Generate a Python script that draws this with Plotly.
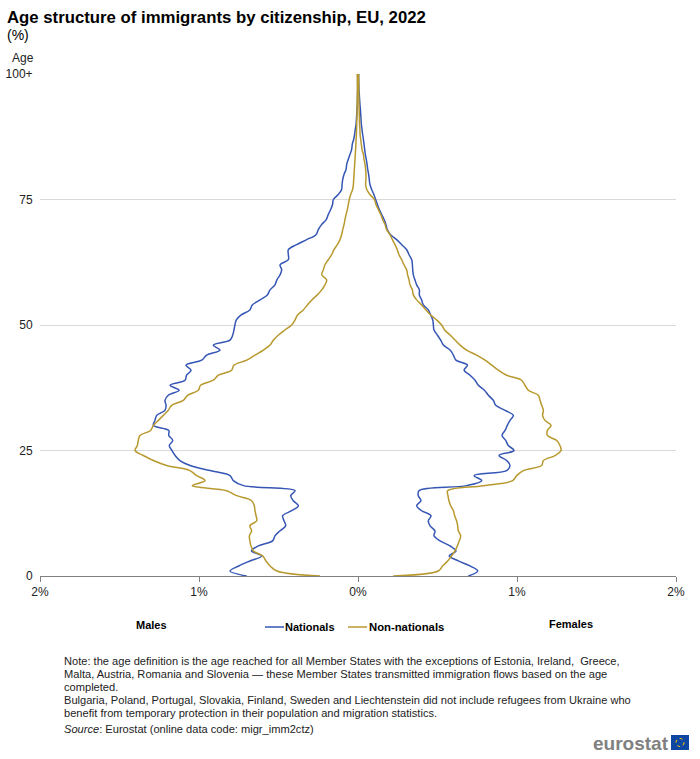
import plotly.graph_objects as go

ages = list(range(0, 101))

# share of immigrants per single year of age (%)
male_nationals = [
    0.70, 0.805, 0.75, 0.68, 0.605, 0.67, 0.627, 0.537, 0.522, 0.49,
    0.455, 0.465, 0.474, 0.417, 0.375, 0.407, 0.423, 0.396, 0.72, 0.784,
    0.805, 0.93, 1.056, 1.12, 1.15, 1.17, 1.187, 1.165, 1.19, 1.19,
    1.287, 1.277, 1.266, 1.214, 1.207, 1.214, 1.193, 1.125, 1.182, 1.088,
    1.078, 1.05, 1.082, 0.983, 0.952, 0.868, 0.91, 0.805, 0.788, 0.78,
    0.774, 0.765, 0.735, 0.68, 0.665, 0.616, 0.57, 0.553, 0.522, 0.51,
    0.49, 0.48, 0.49, 0.438, 0.438, 0.438, 0.386, 0.323, 0.264, 0.25,
    0.229, 0.20, 0.187, 0.172, 0.16, 0.155, 0.124, 0.103, 0.10, 0.096,
    0.088, 0.075, 0.071, 0.061, 0.05, 0.04, 0.036, 0.027, 0.021, 0.017,
    0.012, 0.01, 0.008, 0.006, 0.004, 0.003, 0.003, 0.002, 0.002, 0.002, 0.002,
]
male_non_nationals = [
    0.239, 0.51, 0.553, 0.579, 0.60, 0.658, 0.673, 0.68, 0.683, 0.669,
    0.68, 0.637, 0.641, 0.648, 0.652, 0.669, 0.763, 0.826, 1.042, 0.962,
    1.015, 1.057, 1.203, 1.287, 1.35, 1.402, 1.388, 1.382, 1.371, 1.304,
    1.287, 1.256, 1.224, 1.193, 1.172, 1.099, 1.071, 1.004, 0.99, 0.91,
    0.878, 0.795, 0.78, 0.70, 0.648, 0.595, 0.553, 0.532, 0.50, 0.46,
    0.417, 0.396, 0.38, 0.344, 0.318, 0.29, 0.256, 0.228, 0.208, 0.197,
    0.228, 0.218, 0.208, 0.187, 0.166, 0.151, 0.13, 0.113, 0.103, 0.096,
    0.088, 0.082, 0.075, 0.067, 0.061, 0.055, 0.046, 0.034, 0.029, 0.027,
    0.025, 0.023, 0.021, 0.019, 0.017, 0.015, 0.013, 0.012, 0.01, 0.009,
    0.008, 0.007, 0.006, 0.006, 0.005, 0.005, 0.004, 0.004, 0.004, 0.004, 0.005,
]
female_nationals = [
    0.694, 0.753, 0.704, 0.631, 0.574, 0.616, 0.579, 0.516, 0.478, 0.484,
    0.453, 0.442, 0.459, 0.40, 0.369, 0.396, 0.379, 0.384, 0.683, 0.778,
    0.73, 0.935, 0.956, 0.935, 0.887, 0.981, 0.945, 0.929, 0.906, 0.925,
    0.939, 0.956, 0.977, 0.925, 0.866, 0.851, 0.82, 0.795, 0.757, 0.736,
    0.704, 0.667, 0.688, 0.616, 0.60, 0.579, 0.537, 0.52, 0.499, 0.478,
    0.474, 0.47, 0.457, 0.442, 0.411, 0.40, 0.386, 0.386, 0.369, 0.358,
    0.348, 0.344, 0.342, 0.338, 0.321, 0.306, 0.275, 0.243, 0.205, 0.184,
    0.176, 0.164, 0.149, 0.134, 0.122, 0.111, 0.10, 0.086, 0.075, 0.071,
    0.067, 0.061, 0.057, 0.052, 0.046, 0.042, 0.038, 0.034, 0.029, 0.025,
    0.021, 0.019, 0.017, 0.015, 0.012, 0.01, 0.008, 0.006, 0.005, 0.004, 0.004,
]
female_non_nationals = [
    0.222, 0.505, 0.532, 0.564, 0.589, 0.61, 0.625, 0.637, 0.646, 0.631,
    0.627, 0.62, 0.608, 0.60, 0.583, 0.572, 0.566, 0.564, 0.788, 0.973,
    0.998, 1.04, 1.155, 1.166, 1.239, 1.277, 1.27, 1.25, 1.191, 1.191,
    1.214, 1.176, 1.161, 1.166, 1.155, 1.145, 1.134, 1.071, 1.05, 1.029,
    0.935, 0.883, 0.841, 0.799, 0.746, 0.683, 0.642, 0.61, 0.579, 0.545,
    0.526, 0.495, 0.457, 0.428, 0.40, 0.369, 0.348, 0.342, 0.327, 0.321,
    0.312, 0.306, 0.289, 0.275, 0.258, 0.247, 0.233, 0.216, 0.201, 0.18,
    0.17, 0.155, 0.143, 0.128, 0.113, 0.103, 0.075, 0.055, 0.048, 0.05,
    0.05, 0.048, 0.044, 0.038, 0.034, 0.025, 0.021, 0.017, 0.013, 0.012,
    0.01, 0.009, 0.008, 0.007, 0.006, 0.006, 0.005, 0.005, 0.005, 0.004, 0.004,
]

x_ticks = [-2, -1, 0, 1, 2]
x_tick_labels = ["2%", "1%", "0%", "1%", "2%"]
y_ticks = [0, 25, 50, 75, 100]
y_tick_labels = ["0", "25", "50", "75", "100+"]

note_lines = [
    "Note: the age definition is the age reached for all Member States with the exceptions of Estonia, Ireland,  Greece,",
    "Malta, Austria, Romania and Slovenia — these Member States transmitted immigration flows based on the age",
    "completed.",
    "Bulgaria, Poland, Portugal, Slovakia, Finland, Sweden and Liechtenstein did not include refugees from Ukraine who",
    "benefit from temporary protection in their population and migration statistics.",
]

FONT = "Liberation Sans, Arial, sans-serif"
BLUE = "#3556b5"
GOLD = "#b8992e"
W, H = 700, 759
L, R, T, B = 40, 676, 74, 576


def px(x):
    return (x - L) / (R - L)


def py(y):
    return (B - y) / (B - T)


fig = go.Figure()

# males are mirrored to the left of the zero line
for values, color in [([-v for v in male_nationals], BLUE), (female_nationals, BLUE),
                      ([-v for v in male_non_nationals], GOLD), (female_non_nationals, GOLD)]:
    fig.add_trace(go.Scatter(x=values, y=ages, mode="lines", showlegend=False, cliponaxis=False,
                             line=dict(color=color, width=1.5, shape="spline", smoothing=1)))


def label(text, x, y, size=11, color="#000000", anchor="left", bold=False):
    fig.add_annotation(text=f"<b>{text}</b>" if bold else text, xref="paper", yref="paper",
                       x=px(x), y=py(y), xanchor=anchor, yanchor="middle", showarrow=False,
                       font=dict(family=FONT, size=size, color=color), align="left",
                       borderpad=0, borderwidth=0)


def legend_key(x0, x1, y, color):
    fig.add_shape(type="line", xref="paper", yref="paper", x0=px(x0), x1=px(x1), y0=py(y), y1=py(y),
                  line=dict(color=color, width=1.5))


label("Age structure of immigrants by citizenship, EU, 2022", 7, 17, size=16.75, bold=True)
label("(%)", 7, 35, size=14)
label("Age", 12, 58, size=12, color="#222222")
label("Males", 136, 625, size=11, bold=True)
label("Females", 549, 624, size=11, bold=True)

legend_key(265, 284, 627, BLUE)
label("Nationals", 285, 627, size=11, bold=True)
legend_key(348, 367, 627, GOLD)
label("Non-nationals", 369, 627, size=11.3, bold=True)

for i, line in enumerate(note_lines):
    label(line, 64, 661 + i * 13, size=11.1, color="#222222")
label("<i>Source</i>: Eurostat (online data code: migr_imm2ctz)", 64, 729, size=11.1, color="#222222")
label("eurostat", 669, 743, size=19, color="#808080", anchor="right", bold=True)

# EU flag beside the logotype
fig.add_shape(type="rect", xref="paper", yref="paper", x0=px(671), x1=px(689), y0=py(735), y1=py(750),
              fillcolor="#0e47a1", line_width=0)
fig.add_shape(type="circle", xref="paper", yref="paper", x0=px(676), x1=px(684), y0=py(738.5), y1=py(746.5),
              line=dict(color="#ffcc00", width=1, dash="dot"))

fig.update_layout(
    width=W, height=H, autosize=False,
    margin=dict(l=L, r=W - R, t=T, b=H - B, pad=0),
    paper_bgcolor="white", plot_bgcolor="white",
    font=dict(family=FONT, size=12, color="#222222"),
    showlegend=False,
)
fig.update_xaxes(range=[-2, 2], tickvals=x_ticks, ticktext=x_tick_labels, ticks="outside",
                 ticklen=5, tickcolor="#808080", showgrid=False, zeroline=False, automargin=False,
                 showline=True, linecolor="#808080", linewidth=1, tickfont=dict(size=12))
fig.update_yaxes(range=[0, 100], tickvals=y_ticks, ticktext=y_tick_labels, ticks="outside",
                 ticklen=4, tickcolor="rgba(0,0,0,0)", showgrid=True, gridcolor="#d9d9d9", gridwidth=1,
                 zeroline=False, showline=False, automargin=False, tickfont=dict(size=12))

fig.write_html("out.html", config={"displayModeBar": False},
               post_script="document.body.style.margin='0';")
